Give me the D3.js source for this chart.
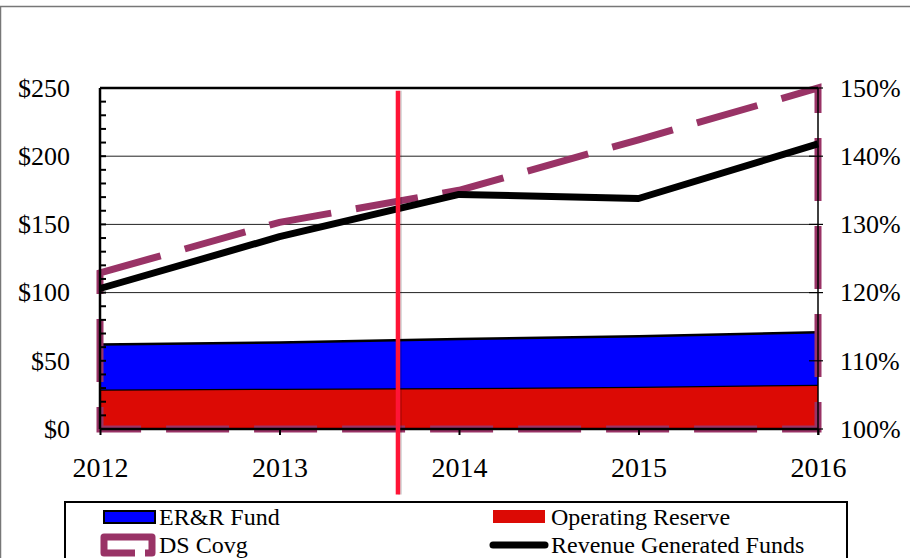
<!DOCTYPE html>
<html>
<head>
<meta charset="utf-8">
<script src="https://cdn.jsdelivr.net/npm/d3@7"></script>
<style>
  html, body { margin: 0; padding: 0; background: #fff; }
  svg { display: block; font-family: "Liberation Serif", "Times New Roman", serif; }
</style>
</head>
<body>
<div id="chart"></div>
<script>
// Fund balances ($M) with debt service coverage on the right axis
const years = [2012, 2013, 2014, 2015, 2016];
const operatingReserve = [29, 29.5, 30, 31, 32.5];
const errFund = [33, 34, 36, 37, 38.5];
const revenueFunds = [103, 141, 172, 169, 209];
const dsCovg = [122.9, 130.3, 135, 142.4, 150];
const leftTicks = [0, 50, 100, 150, 200, 250];
const rightTicks = [100, 110, 120, 130, 140, 150];
// vertical marker (year position, $ top, $ bottom)
const marker = { year: 2013.66, top: 248, bottom: -48 };

const W = 910, H = 558;
const margin = { top: 88, right: 92, bottom: 129, left: 100 };
const width = W - margin.left - margin.right;
const height = H - margin.top - margin.bottom;
const serif = "Liberation Serif, Times New Roman, serif";

const svg = d3.select("#chart").append("svg")
  .attr("width", W).attr("height", H);

// outer chart border (extends past right/bottom edges)
svg.append("rect")
  .attr("x", 0.5).attr("y", 6.5)
  .attr("width", W + 10).attr("height", H + 10)
  .attr("fill", "none").attr("stroke", "#777").attr("stroke-width", 1.5);

const g = svg.append("g")
  .attr("transform", `translate(${margin.left},${margin.top})`);

const x = d3.scaleLinear().domain([2012, 2016]).range([0, width]);
const y = d3.scaleLinear().domain([0, 250]).range([height, 0]);
const y2 = d3.scaleLinear().domain([100, 150]).range([height, 0]);

// gridlines
g.append("g")
  .selectAll("line")
  .data(leftTicks.filter(t => t > 0 && t < 250))
  .join("line")
  .attr("x1", 0).attr("x2", width)
  .attr("y1", d => y(d)).attr("y2", d => y(d))
  .attr("stroke", "#222").attr("stroke-width", 1);

// stacked areas
const stackData = years.map((yr, i) => ({ year: yr, or: operatingReserve[i], err: errFund[i] }));
const stack = d3.stack().keys(["or", "err"])(stackData);
const fills = { or: "#dc0a05", err: "#0000ff" };

const area = d3.area()
  .x(d => x(d.data.year))
  .y0(d => y(d[0]))
  .y1(d => y(d[1]));
const topLine = d3.line()
  .x(d => x(d.data.year))
  .y(d => y(d[1]));

stack.forEach(s => {
  g.append("path").datum(s)
    .attr("fill", fills[s.key])
    .attr("d", area);
  g.append("path").datum(s)
    .attr("fill", "none")
    .attr("stroke", "#000").attr("stroke-width", 2.5)
    .attr("d", topLine);
});

// DS coverage: unfilled area with dashed outline, right axis
const dsData = years.map((yr, i) => ({ year: yr, v: dsCovg[i] }));
const dsArea = d3.area()
  .x(d => x(d.year))
  .y0(y2(100))
  .y1(d => y2(d.v));
g.append("path").datum(dsData)
  .attr("fill", "none")
  .attr("stroke", "#993366")
  .attr("stroke-width", 7)
  .attr("stroke-dasharray", "63,25")
  .attr("d", dsArea);

// axes
const axisLeft = d3.axisLeft(y).tickValues(leftTicks).tickSize(0)
  .tickFormat(d => "$" + d).tickPadding(30);
g.append("g").call(axisLeft)
  .call(a => a.select(".domain").remove())
  .call(a => a.selectAll("text").attr("font-size", 26).attr("fill", "#000")
    .attr("font-family", serif));

// minor inward ticks on left axis
g.append("g")
  .selectAll("line")
  .data(d3.range(0, 251, 10))
  .join("line")
  .attr("x1", 0).attr("x2", 6)
  .attr("y1", d => y(d)).attr("y2", d => y(d))
  .attr("stroke", "#000").attr("stroke-width", 2);

const axisRight = d3.axisRight(y2).tickValues(rightTicks).tickSize(0)
  .tickFormat(d => d + "%").tickPadding(22);
g.append("g").attr("transform", `translate(${width},0)`).call(axisRight)
  .call(a => a.select(".domain").remove())
  .call(a => a.selectAll("text").attr("font-size", 26).attr("fill", "#000")
    .attr("font-family", serif));
g.append("g")
  .selectAll("line")
  .data(rightTicks)
  .join("line")
  .attr("x1", width - 9).attr("x2", width + 5)
  .attr("y1", d => y2(d)).attr("y2", d => y2(d))
  .attr("stroke", "#000").attr("stroke-width", 1.2);

const axisBottom = d3.axisBottom(x).tickValues(years).tickSize(6)
  .tickFormat(d3.format("d")).tickPadding(22);
g.append("g").attr("transform", `translate(0,${height})`).call(axisBottom)
  .call(a => a.select(".domain").remove())
  .call(a => a.selectAll(".tick line").attr("stroke", "#000").attr("stroke-width", 2))
  .call(a => a.selectAll("text").attr("font-size", 28).attr("fill", "#000")
    .attr("font-family", serif));

// plot frame lines
g.append("line").attr("x1", 0).attr("x2", width).attr("y1", 0).attr("y2", 0)
  .attr("stroke", "#000").attr("stroke-width", 2.5);
g.append("line").attr("x1", 0).attr("x2", width).attr("y1", height).attr("y2", height)
  .attr("stroke", "#000").attr("stroke-width", 2.5);
g.append("line").attr("x1", 0).attr("x2", 0).attr("y1", 0).attr("y2", height)
  .attr("stroke", "#000").attr("stroke-width", 2.5);
g.append("line").attr("x1", width).attr("x2", width).attr("y1", 0).attr("y2", height + 6)
  .attr("stroke", "#000").attr("stroke-width", 1.5);

// revenue generated funds line
const revLine = d3.line()
  .x((d, i) => x(years[i]))
  .y(d => y(d));
g.append("path").datum(revenueFunds)
  .attr("fill", "none")
  .attr("stroke", "#000").attr("stroke-width", 7)
  .attr("stroke-linejoin", "round")
  .attr("d", revLine);

// red vertical marker
g.append("line")
  .attr("x1", x(marker.year) + 2).attr("x2", x(marker.year) + 2)
  .attr("y1", y(marker.top)).attr("y2", y(marker.bottom))
  .attr("stroke", "#000").attr("stroke-opacity", 0.15).attr("stroke-width", 4);
g.append("line")
  .attr("x1", x(marker.year)).attr("x2", x(marker.year))
  .attr("y1", y(marker.top)).attr("y2", y(marker.bottom))
  .attr("stroke", "#ff1436").attr("stroke-width", 4.5);

// legend
const legend = svg.append("g");
legend.append("rect")
  .attr("x", 65).attr("y", 502).attr("width", 782).attr("height", 70)
  .attr("fill", "#fff").attr("stroke", "#000").attr("stroke-width", 2);

const fs = 24;
// ER&R Fund
legend.append("rect").attr("x", 104).attr("y", 511).attr("width", 51).attr("height", 12)
  .attr("fill", "#0000ff").attr("stroke", "#000").attr("stroke-width", 2);
legend.append("text").attr("x", 159).attr("y", 525).attr("font-size", fs).text("ER&R Fund");
// Operating Reserve
legend.append("rect").attr("x", 493).attr("y", 510).attr("width", 52).attr("height", 13)
  .attr("fill", "#dc0a05");
legend.append("text").attr("x", 551).attr("y", 525).attr("font-size", fs).text("Operating Reserve");
// DS Covg
legend.append("path")
  .attr("d", "M135,553 L104,553 L104,537 L152,537 L152,553 L145,553")
  .attr("fill", "none").attr("stroke", "#993366").attr("stroke-width", 7)
  .attr("stroke-linejoin", "round");
legend.append("text").attr("x", 159).attr("y", 553).attr("font-size", fs).text("DS Covg");
// Revenue Generated Funds
legend.append("line").attr("x1", 493).attr("x2", 545).attr("y1", 545).attr("y2", 545)
  .attr("stroke", "#000").attr("stroke-width", 7).attr("stroke-linecap", "round");
legend.append("text").attr("x", 551).attr("y", 553).attr("font-size", fs).text("Revenue Generated Funds");
</script>
</body>
</html>
